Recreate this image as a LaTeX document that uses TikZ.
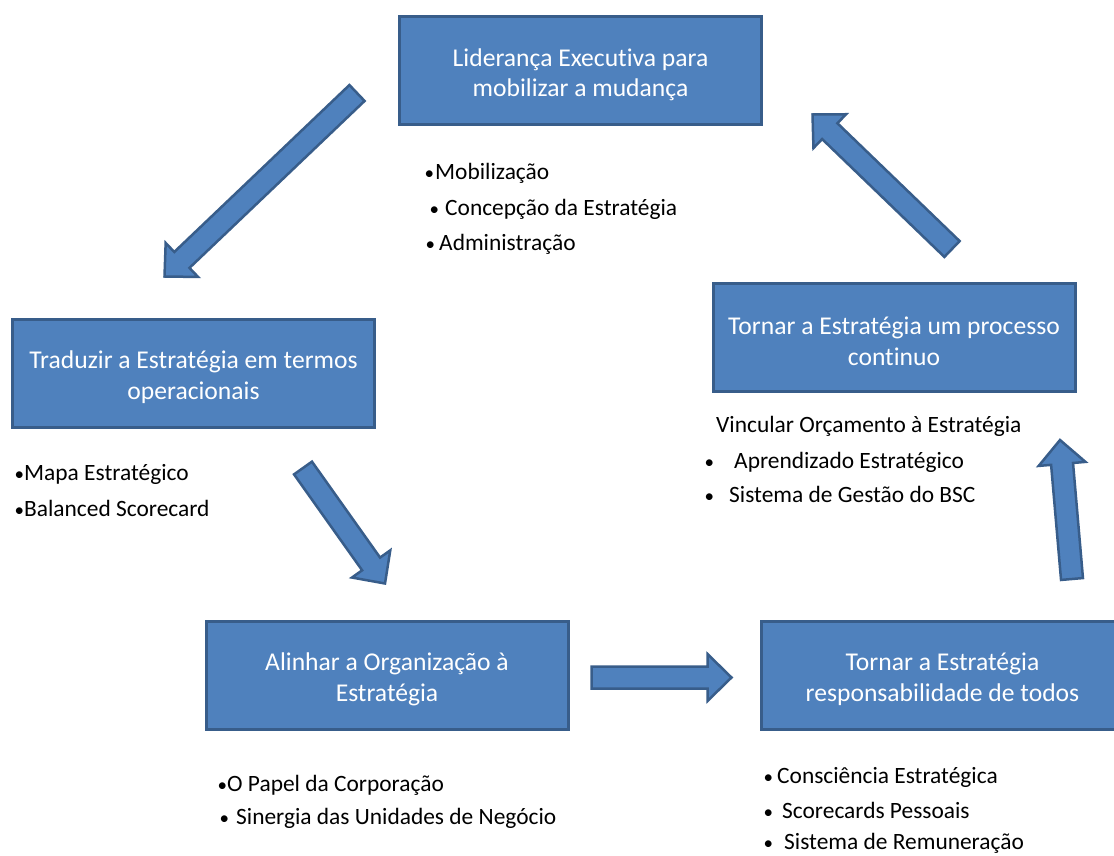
\documentclass[tikz,border=0pt]{standalone}
\usepackage{fontspec}
\setmainfont{Carlito}[Ligatures=NoCommon]
\usetikzlibrary{calc}
\definecolor{boxfill}{HTML}{4F81BD}
\definecolor{boxline}{HTML}{385D8A}
\tikzset{
  stage/.style={draw=boxline, fill=boxfill, line width=3pt,
    minimum width=362pt, minimum height=108pt, inner sep=0pt,
    text=white, align=center, font=\fontsize{25.6}{30.5}\selectfont},
  listitem/.style={anchor=base west, inner sep=0pt,
    font=\fontsize{23.4}{27}\selectfont},
  fatarrow/.style={draw=boxline, fill=boxfill, line width=2.5pt, line join=miter},
}
% tall strut on the first line of a stage title
\newcommand{\topstrut}{\rule{0pt}{26pt}}
% bullet hung to the left of the text start, #1 = gap after the bullet
\newcommand{\bt}[2]{\llap{{\fontsize{19}{20}\selectfont •}\hspace{#1}}#2}
% block arrow from tail centre #1 to tip #2
\newcommand{\flowarrow}[2]{%
  \coordinate (hb) at ($(#2)!24pt!(#1)$);
  \draw[fatarrow] ($(#1)!11pt!90:(#2)$) -- ($(hb)!11pt!90:(#2)$)
    -- ($(hb)!23.5pt!90:(#2)$) -- (#2) -- ($(hb)!23.5pt!-90:(#2)$)
    -- ($(hb)!11pt!-90:(#2)$) -- ($(#1)!11pt!-90:(#2)$) -- cycle;}
\begin{document}
\begin{tikzpicture}[x=1pt, y=-1pt]
  \clip (0,0) rectangle (1114,856);
  \fill[white] (0,0) rectangle (1114,856);

  % stages of the cycle
  \node[stage] (lead)  at (580.5,70.5)  {\topstrut Liderança Executiva para\\mobilizar a mudança};
  \node[stage] (trans) at (193.5,373)   {\topstrut Traduzir a Estratégia em termos\\operacionais};
  \node[stage] (align) at (387,675)     {\topstrut Alinhar a Organização à\\Estratégia};
  \node[stage] (resp)  at (942.5,675)   {\topstrut Tornar a Estratégia\\responsabilidade de todos};
  \node[stage] (cont)  at (894,337)     {\topstrut Tornar a Estratégia um processo\\continuo};

  % arrow end points
  \coordinate (a1t) at (357,93);    \coordinate (a1p) at (164.5,276.5);
  \coordinate (a2t) at (303,468);   \coordinate (a2p) at (385,583.5);
  \coordinate (a3t) at (591.5,677.5); \coordinate (a3p) at (731.5,677.5);
  \coordinate (a4t) at (1072,579);  \coordinate (a4p) at (1060,440);
  \coordinate (a5t) at (952,249);   \coordinate (a5p) at (812.5,114.5);

  \flowarrow{a1t}{a1p}
  \flowarrow{a2t}{a2p}
  \flowarrow{a3t}{a3p}
  \flowarrow{a4t}{a4p}
  \flowarrow{a5t}{a5p}

  % notes under each stage
  \node[listitem] (m1) at (435,179) {\bt{1pt}{Mobilização}};
  \node[listitem] (m2) at (445,215) {\bt{6pt}{Concepção da Estratégia}};
  \node[listitem] (m3) at (439,250) {\bt{4pt}{Administração}};

  \node[listitem] (t1) at (24,480) {\bt{0pt}{Mapa Estratégico}};
  \node[listitem] (t2) at (24,516) {\bt{0pt}{Balanced Scorecard}};

  \node[listitem] (v1) at (716,432) {Vincular Orçamento à Estratégia};
  \node[listitem] (v2) at (734,468) {\bt{20pt}{Aprendizado Estratégico}};
  \node[listitem] (v3) at (729,502) {\bt{15pt}{Sistema de Gestão do BSC}};

  \node[listitem] (o1) at (227,791) {\bt{0pt}{O Papel da Corporação}};
  \node[listitem] (o2) at (236,824) {\bt{7pt}{Sinergia das Unidades de Negócio}};

  \node[listitem] (c1) at (777,783) {\bt{4pt}{Consciência Estratégica}};
  \node[listitem] (c2) at (782,818) {\bt{9pt}{Scorecards Pessoais}};
  \node[listitem] (c3) at (784,849) {\bt{11pt}{Sistema de Remuneração}};
\end{tikzpicture}
\end{document}
